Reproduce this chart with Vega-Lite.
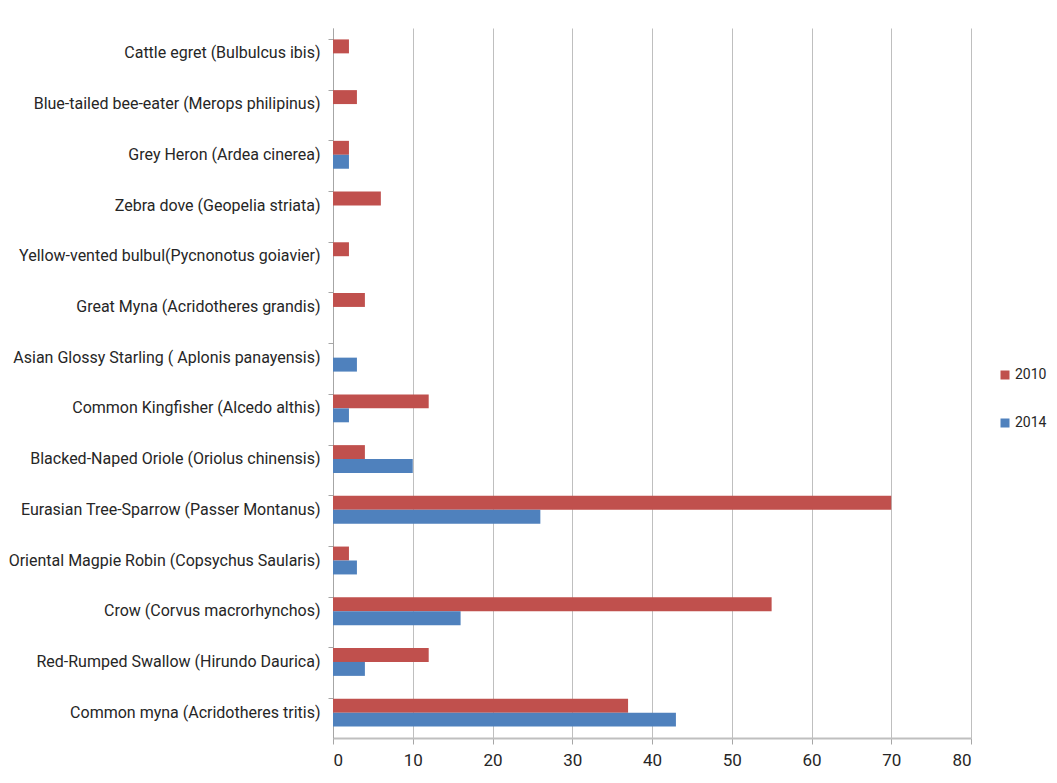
{
  "$schema": "https://vega.github.io/schema/vega-lite/v6.json",
  "width": 638,
  "height": 710,
  "autosize": {"type": "none"},
  "padding": {"left": 333, "top": 28, "right": 86, "bottom": 45},
  "background": "white",
  "config": {
    "view": {"stroke": null},
    "font": "Roboto"
  },
  "data": {
    "values": [
      {"species": "Cattle egret (Bulbulcus ibis)", "year": "2010", "count": 2},
      {"species": "Blue-tailed bee-eater (Merops philipinus)", "year": "2010", "count": 3},
      {"species": "Grey Heron (Ardea cinerea)", "year": "2010", "count": 2},
      {"species": "Grey Heron (Ardea cinerea)", "year": "2014", "count": 2},
      {"species": "Zebra dove (Geopelia striata)", "year": "2010", "count": 6},
      {"species": "Yellow-vented bulbul(Pycnonotus goiavier)", "year": "2010", "count": 2},
      {"species": "Great Myna (Acridotheres grandis)", "year": "2010", "count": 4},
      {"species": "Asian Glossy Starling ( Aplonis panayensis)", "year": "2014", "count": 3},
      {"species": "Common Kingfisher (Alcedo althis)", "year": "2010", "count": 12},
      {"species": "Common Kingfisher (Alcedo althis)", "year": "2014", "count": 2},
      {"species": "Blacked-Naped Oriole (Oriolus chinensis)", "year": "2010", "count": 4},
      {"species": "Blacked-Naped Oriole (Oriolus chinensis)", "year": "2014", "count": 10},
      {"species": "Eurasian Tree-Sparrow (Passer Montanus)", "year": "2010", "count": 70},
      {"species": "Eurasian Tree-Sparrow (Passer Montanus)", "year": "2014", "count": 26},
      {"species": "Oriental Magpie Robin (Copsychus Saularis)", "year": "2010", "count": 2},
      {"species": "Oriental Magpie Robin (Copsychus Saularis)", "year": "2014", "count": 3},
      {"species": "Crow (Corvus macrorhynchos)", "year": "2010", "count": 55},
      {"species": "Crow (Corvus macrorhynchos)", "year": "2014", "count": 16},
      {"species": "Red-Rumped Swallow (Hirundo Daurica)", "year": "2010", "count": 12},
      {"species": "Red-Rumped Swallow (Hirundo Daurica)", "year": "2014", "count": 4},
      {"species": "Common myna (Acridotheres tritis)", "year": "2010", "count": 37},
      {"species": "Common myna (Acridotheres tritis)", "year": "2014", "count": 43}
    ]
  },
  "mark": {"type": "bar", "stroke": null},
  "encoding": {
    "y": {
      "field": "species",
      "type": "nominal",
      "sort": null,
      "title": null,
      "scale": {"paddingInner": 0.45, "paddingOuter": 0.225},
      "axis": {
        "bandPosition": 0,
        "labelFontSize": 16,
        "labelColor": "#262626",
        "labelPadding": 8,
        "labelLimit": 400,
        "tickSize": 5,
        "tickColor": "#a6a6a6",
        "domainColor": "#a6a6a6",
        "domainWidth": 1,
        "grid": false
      }
    },
    "yOffset": {
      "field": "year",
      "type": "nominal",
      "sort": ["2010", "2014"],
      "scale": {"paddingInner": 0, "paddingOuter": 0}
    },
    "x": {
      "field": "count",
      "type": "quantitative",
      "title": null,
      "scale": {"domain": [0, 80], "nice": false},
      "axis": {
        "values": [0, 10, 20, 30, 40, 50, 60, 70, 80],
        "labelFontSize": 17,
        "labelColor": "#262626",
        "labelPadding": 8,
        "tickSize": 6,
        "tickColor": "#a6a6a6",
        "domainColor": "#bfbfbf",
        "domainWidth": 2,
        "grid": true,
        "gridColor": "#bfbfbf",
        "gridWidth": 1
      }
    },
    "color": {
      "field": "year",
      "type": "nominal",
      "scale": {"domain": ["2010", "2014"], "range": ["#c0504d", "#4f81bd"]},
      "legend": {
        "title": null,
        "orient": "none",
        "legendX": 665,
        "legendY": 340,
        "symbolType": "square",
        "symbolSize": 81,
        "labelFontSize": 14,
        "labelColor": "#262626",
        "rowPadding": 34,
        "labelOffset": 3
      }
    }
  }
}
